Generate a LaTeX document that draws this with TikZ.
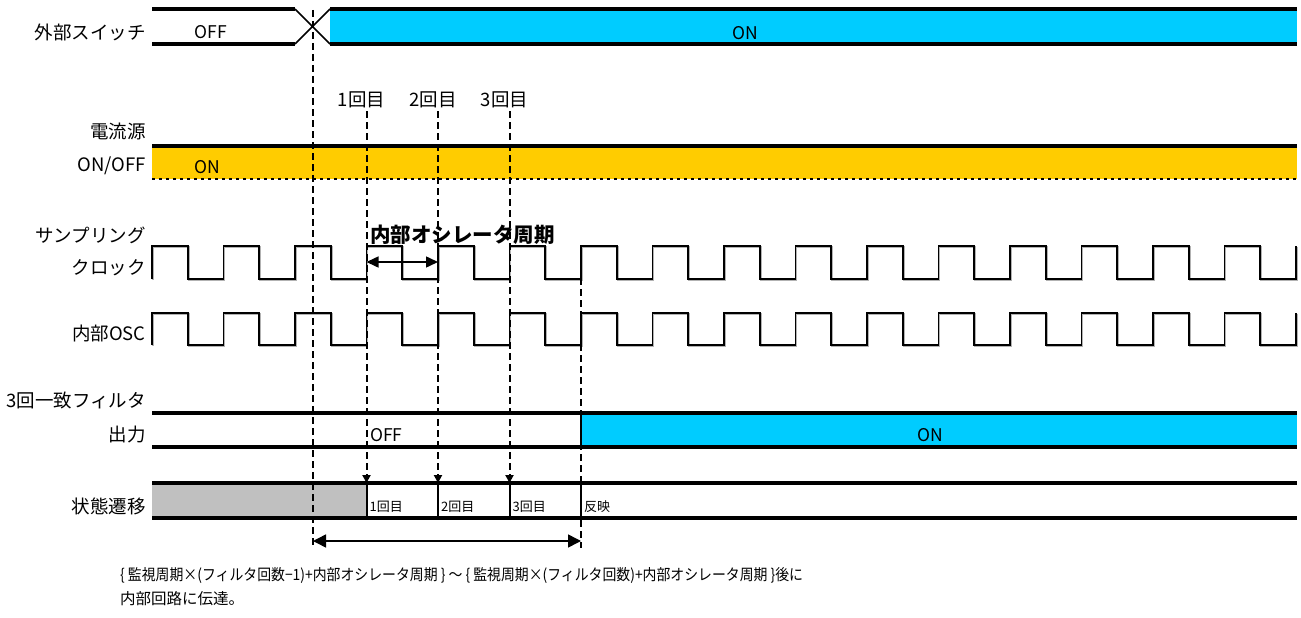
\documentclass[tikz,border=0pt]{standalone}
\usepackage{fontspec}
\setmainfont{Noto Sans CJK JP}
\usepackage{tikz}
\usetikzlibrary{arrows.meta}

\definecolor{swcyan}{HTML}{00CCFF}
\definecolor{pwryellow}{HTML}{FFCC00}
\definecolor{waitgray}{HTML}{C0C0C0}

\newcommand{\squarewave}[2]{%
  \draw[wave,black!30,xshift=1pt,yshift=-1pt] (152,#2) -- (152,#1)
    \foreach \k in {1,...,16}{ -- ++(35.75,0) -- ++(0,#2-#1) -- ++(35.75,0) -- ++(0,#1-#2)};
  \draw[wave] (152,#2) -- (152,#1)
    \foreach \k in {1,...,16}{ -- ++(35.75,0) -- ++(0,#2-#1) -- ++(35.75,0) -- ++(0,#1-#2)};}

\begin{document}
\begin{tikzpicture}[x=1pt,y=-1pt,
    row/.style={line width=3.5pt},
    wave/.style={line width=1.8pt,line join=miter},
    guide/.style={dash pattern=on 7pt off 4pt,line width=2pt},
    sig/.style={anchor=east,inner sep=0pt,font=\fontsize{18.5}{22}\selectfont},
    val/.style={inner sep=0pt,font=\fontsize{17.5}{21}\selectfont},
    tick/.style={anchor=west,inner sep=0pt,font=\fontsize{13}{15}\selectfont},
    note/.style={anchor=west,inner sep=0pt,font=\fontsize{15.5}{18}\selectfont}]
  \useasboundingbox (0,0) rectangle (1301,618);

  \node[sig] (swname) at (146,32) {外部スイッチ};
  \node[sig] (srcname) at (146,131) {電流源};
  \node[sig] (srcname2) at (146,166) {ON/OFF};
  \node[sig] (clkname) at (146,235) {サンプリング};
  \node[sig] (clkname2) at (146,268) {クロック};
  \node[sig] (oscname) at (146,333) {内部OSC};
  \node[sig] (fltname) at (146,400) {3回一致フィルタ};
  \node[sig] (fltname2) at (146,435) {出力};
  \node[sig] (stname) at (146,506) {状態遷移};

  % external switch
  \fill[swcyan] (330,9) rectangle (1297,44);
  \draw[row] (152,9) -- (295,9) (152,44) -- (295,44) (330,9) -- (1297,9) (330,44) -- (1297,44);
  \draw[line width=1.5pt] (295,9) -- (330,44) (295,44) -- (330,9);
  \node[val] (swoff) at (211,32) {OFF};
  \node[val] (swon) at (745,33) {ON};

  % current source
  \fill[pwryellow] (152,146) rectangle (1297,179);
  \draw[row] (152,146) -- (1297,146);
  \draw[line width=2.5pt,dash pattern=on 3pt off 4pt] (152,179) -- (1297,179);
  \node[val] (srcon) at (207,167) {ON};

  % clocks
  \squarewave{246}{279}
  \squarewave{313}{345}

  % filter output
  \fill[swcyan] (581,413) rectangle (1297,447);
  \draw[row] (152,413) -- (1297,413) (152,447) -- (1297,447);
  \draw[line width=2.5pt] (581,413) -- (581,447);
  \node[val,anchor=west] (outoff) at (370,435) {OFF};
  \node[val] (outon) at (930,435) {ON};

  % state transition
  \fill[waitgray] (152,483) rectangle (366.5,518);
  \draw[row] (152,483) -- (1297,483) (152,518) -- (1297,518);
  \foreach \n/\x/\t in {1/366.5/1回目,2/438/2回目,3/509.5/3回目,4/581/反映}{
    \coordinate (s\n) at (\x,483);
    \draw[line width=2pt] (s\n) -- ++(0,35);
    \node[tick] (st\n) at (\x+3,507) {\t};
  }

  % sampling points
  \foreach \n/\x/\t in {1/366.5/1回目,2/438/2回目,3/509.5/3回目}{
    \node[val,font=\fontsize{18.5}{22}\selectfont] (c\n) at (\x-5,100) {\t};
    \draw[guide,shorten <=3pt,-{Triangle[length=8pt,width=8pt]}] (c\n.south -| s\n) -- (s\n);
  }
  \coordinate (swedge) at (313,10);
  \coordinate (swend) at (313,548);
  \coordinate (outedge) at (581,245);
  \coordinate (outend) at (581,548);
  \draw[guide] (swedge) -- (swend);
  \draw[guide] (outedge) -- (outend);

  % periods
  \node[anchor=west,inner sep=0pt,font=\fontsize{20.5}{24}\selectfont\bfseries] (oscper) at (370,235) {内部オシレータ周期};
  \coordinate (p1) at (366.5,262);
  \coordinate (p2) at (438,262);
  \draw[line width=1.5pt,{Triangle[length=12pt,width=11pt]}-{Triangle[length=12pt,width=11pt]}] (p1) -- (p2);
  \coordinate (d1) at (313,541);
  \coordinate (d2) at (581,541);
  \draw[line width=1.5pt,{Triangle[length=13pt,width=13pt]}-{Triangle[length=13pt,width=13pt]}] (d1) -- (d2);

  \node[note] (delay) at (120,575) {\scalebox{0.895}[1]{\{ 監視周期×(フィルタ回数−1)+内部オシレータ周期 \} ～ \{ 監視周期×(フィルタ回数)+内部オシレータ周期 \}後に}};
  \node[note] (delay2) at (120,599) {内部回路に伝達。};
\end{tikzpicture}
\end{document}
